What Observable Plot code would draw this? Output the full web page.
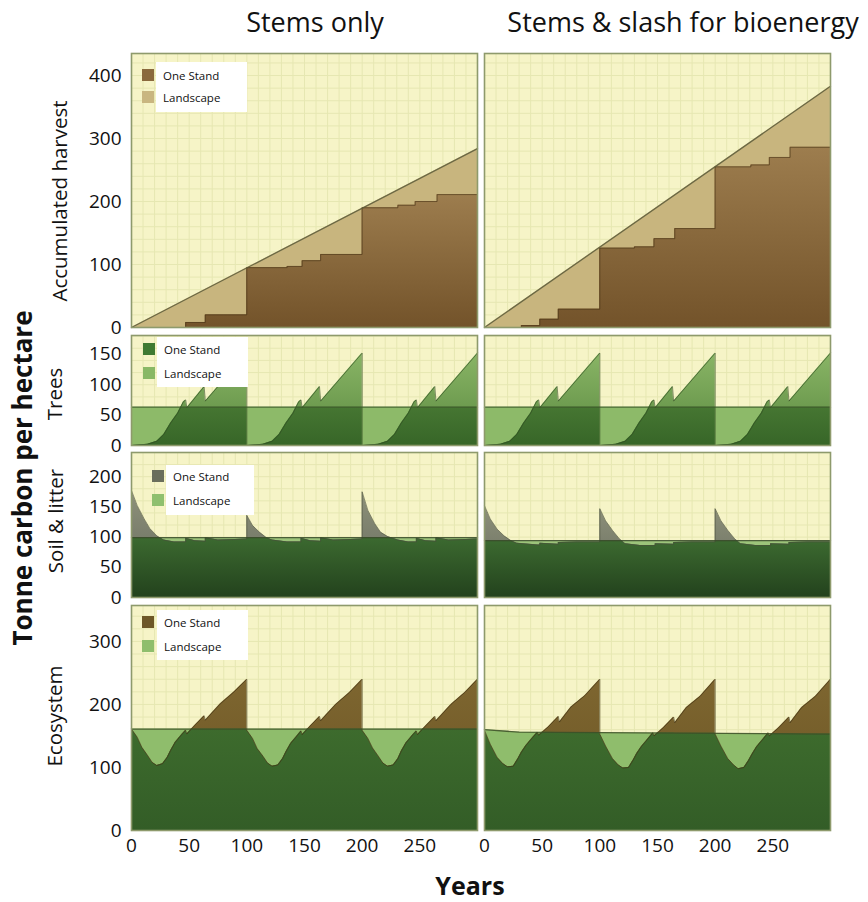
<!DOCTYPE html>
<html>
<head>
<meta charset="utf-8">
<script src="https://cdn.jsdelivr.net/npm/d3@7"></script>
<script src="https://cdn.jsdelivr.net/npm/@observablehq/plot@0.6"></script>
<style>
  body { margin: 0; background: #ffffff; }
  #root { position: relative; width: 868px; height: 902px; overflow: hidden; font-family: "Open Sans", sans-serif; background: #fff; }
  .cell { position: absolute; }
  #overlay { position: absolute; left: 0; top: 0; pointer-events: none; }
</style>
</head>
<body>
<div id="root"></div>
<script>
// ---------------- DATA ----------------
const columnTitles = ["Stems only", "Stems & slash for bioenergy"];
const rowLabels = ["Accumulated harvest", "Trees", "Soil & litter", "Ecosystem"];
const seriesNames = ["One Stand", "Landscape"];
const yAxisTitle = "Tonne carbon per hectare";
const xAxisTitle = "Years";
const xTickValues = [0, 50, 100, 150, 200, 250];
const harvestTicks = [0, 100, 200, 300, 400];
const treesTicks = [0, 50, 100, 150];
const soilTicks = [0, 50, 100, 150, 200];
const ecoTicks = [0, 100, 200, 300];

// Accumulated harvest [year, tC/ha]
const harvestStemsLandscape = [[0, 0], [300, 284]];
const harvestStemsStand = [[0,0],[47,0],[47,8],[64,8],[64,20],[100,20],[100,95],[135,95],[135,97],[148,97],[148,106],[164,106],[164,116],[200,116],[200,190],[231,190],[231,194],[246,194],[246,200],[265,200],[265,211],[300,211]];
const harvestSlashLandscape = [[0, 0], [300, 383]];
const harvestSlashStand = [[0,0],[32,0],[32,3],[48,3],[48,13],[64,13],[64,29],[100,29],[100,126],[130,126],[130,128],[147,128],[147,141],[165,141],[165,157],[200,157],[200,255],[231,255],[231,258],[247,258],[247,270],[265,270],[265,286],[300,286]];

// Trees (same in both scenarios)
const treesLandscape = [[0, 63], [300, 63]];
const treesStand = [
  [0,0],[14,2],[22,7],[28,18],[34,37],[40,53],[45,72],[47,75],[48,62],[63,97],[64,73],[100,152],
  [100,0],[114,2],[122,7],[128,18],[134,37],[140,53],[145,72],[147,75],[148,62],[163,97],[164,73],[200,152],
  [200,0],[214,2],[222,7],[228,18],[234,37],[240,53],[245,72],[247,75],[248,62],[263,97],[264,73],[300,152]
];

// Soil & litter
const soilStemsLandscape = [[0, 99], [300, 99]];
const soilStemsStand = [
  [0,177],[5,152],[11,130],[16,114],[22,102],[28,95],[37,92],[47,92],[47,98],[55,94],[64,93],[64,99],[75,95],[90,96],[100,97],
  [100,136],[105,119],[111,108],[117,99],[122,95],[135,92],[147,92],[147,98],[155,94],[164,93],[164,99],[175,95],[190,96],[200,97],
  [200,175],[205,144],[211,122],[216,108],[222,101],[231,95],[240,92],[247,92],[247,98],[255,94],[264,93],[264,99],[275,95],[290,96],[300,97],[300,175]
];
const soilSlashLandscape = [[0, 94], [300, 94]];
const soilSlashStand = [
  [0,152],[5,130],[11,113],[17,102],[23,94],[28,90],[46,87],[48,87],[48,90],[64,88],[64,91],[80,92],[100,92],
  [100,147],[105,127],[111,111],[117,97],[122,89],[135,86],[148,86],[148,89],[164,88],[164,91],[180,92],[200,92],
  [200,147],[205,127],[211,111],[217,97],[222,89],[235,86],[248,86],[248,89],[264,88],[264,91],[280,92],[300,92],[300,150]
];

// Ecosystem
const ecoStemsLandscape = [[0, 161], [300, 161]];
const ecoStemsStand = [
  [0,161],[5,148],[9,132],[14,119],[18,108],[22,103],[27,106],[31,116],[34,127],[38,140],[44,153],[47,159],[48,153],[55,167],[63,182],[64,175],[77,201],[89,220],[100,240],
  [100,159],[105,146],[109,130],[114,118],[118,107],[122,102],[127,104],[131,114],[134,125],[138,138],[144,151],[147,158],[148,152],[155,166],[163,181],[164,174],[177,200],[189,219],[200,240],
  [200,159],[205,146],[209,131],[214,118],[218,107],[222,102],[227,104],[231,114],[234,126],[238,139],[244,152],[247,158],[248,152],[255,166],[263,181],[264,174],[277,200],[289,219],[300,240]
];
const ecoSlashLandscape = [[0, 160], [30, 156], [300, 153]];
const ecoSlashStand = [
  [0,159],[5,137],[11,116],[16,106],[20,101],[25,102],[29,114],[32,124],[36,135],[42,148],[46,156],[47,151],[55,164],[64,181],[65,172],[75,196],[87,214],[100,240],
  [100,153],[105,134],[111,114],[116,104],[120,99],[125,100],[129,112],[132,122],[136,133],[142,146],[146,155],[147,150],[155,163],[164,180],[165,171],[175,195],[187,213],[200,240],
  [200,153],[205,134],[211,114],[216,104],[220,98],[225,100],[229,111],[232,121],[236,133],[242,146],[246,155],[247,150],[255,163],[264,180],[265,171],[275,195],[287,213],[300,240]
];

// ---------------- STYLE / LAYOUT ----------------
const BG = "#f6f4c7";
const GRID = "#e6e7b2";
const FRAME = "#8e9a6c";
const FONT = "'Open Sans', sans-serif";

const palettes = {
  harv: { land: "#c8b57e", standTop: "#9d7d4e", standBot: "#73532a", overTop: "#9d7d4e", overBot: "#73532a", landLine: "#5b5a3a", standLine: "#4a3518", legOne: "#8a693d", legLand: "#c9b680" },
  trees: { land: "#8dba69", standTop: "#8ab566", standBot: "#5a8a40", overTop: "#467632", overBot: "#376628", landLine: "#3e5a2a", standLine: "#2e4a20", legOne: "#3f7a32", legLand: "#89b866" },
  soil: { land: "#9cc47a", standTop: "#8e917a", standBot: "#60665a", overTop: "#3c6a30", overBot: "#23421d", landLine: "#3a4a2a", standLine: "#4a4f3a", legOne: "#6a6e5c", legLand: "#8fc06f" },
  eco: { land: "#8fbd6c", standTop: "#7e6630", standBot: "#6a5423", overTop: "#3d6b2d", overBot: "#335d27", landLine: "#3d4f28", standLine: "#3e3014", legOne: "#6d5727", legLand: "#8fbe6d" }
};

const rows = [
  { id: "harv", top: 53, h: 274, yMax: 435, ticks: harvestTicks, data: [[harvestStemsStand, harvestStemsLandscape], [harvestSlashStand, harvestSlashLandscape]] },
  { id: "trees", top: 335, h: 110, yMax: 181, ticks: treesTicks, data: [[treesStand, treesLandscape], [treesStand, treesLandscape]] },
  { id: "soil", top: 452, h: 145, yMax: 240, ticks: soilTicks, data: [[soilStemsStand, soilStemsLandscape], [soilSlashStand, soilSlashLandscape]] },
  { id: "eco", top: 605, h: 225, yMax: 357, ticks: ecoTicks, data: [[ecoStemsStand, ecoStemsLandscape], [ecoSlashStand, ecoSlashLandscape]] }
];
const cols = [{ x: 131, showY: true }, { x: 484, showY: false }];
const PANEL_W = 346;
const MARGIN_L = 50, MARGIN_B = 36;

const X = d => d[0], Y = d => d[1];

function lineAt(L, x) {
  for (let i = 1; i < L.length; i++) {
    if (x <= L[i][0]) {
      const [x0, y0] = L[i - 1], [x1, y1] = L[i];
      return x1 === x0 ? y1 : y0 + (y1 - y0) * (x - x0) / (x1 - x0);
    }
  }
  return L[L.length - 1][1];
}
// part of the stand area that lies below the landscape line
function lowerEnvelope(S, L) {
  const out = [];
  for (let i = 0; i < S.length; i++) {
    const [x, y] = S[i];
    const l = lineAt(L, x);
    if (i > 0) {
      const [px, py] = S[i - 1];
      const pl = lineAt(L, px);
      const d0 = py - pl, d1 = y - l;
      if (d0 * d1 < 0 && x !== px) {
        const t = d0 / (d0 - d1);
        out.push([px + t * (x - px), py + t * (y - py)]);
      }
    }
    out.push([x, Math.min(y, l)]);
  }
  return out;
}

function gradientDefs(uid, p) {
  return () => {
    const defs = d3.create("svg:defs");
    const add = (id, top, bot) => {
      const g = defs.append("linearGradient").attr("id", id).attr("x1", 0).attr("y1", 0).attr("x2", 0).attr("y2", 1);
      g.append("stop").attr("offset", "0%").attr("stop-color", top);
      g.append("stop").attr("offset", "100%").attr("stop-color", bot);
    };
    add(uid + "-stand", p.standTop, p.standBot);
    add(uid + "-over", p.overTop, p.overBot);
    return defs.node();
  };
}

const root = document.getElementById("root");

rows.forEach((row, ri) => {
  const p = palettes[row.id];
  const isBottom = ri === rows.length - 1;
  cols.forEach((col, ci) => {
    const [stand, land] = row.data[ci];
    const uid = `${row.id}-${ci}`;
    const env = lowerEnvelope(stand, land);
    const plot = Plot.plot({
      width: PANEL_W + (col.showY ? MARGIN_L : 0),
      height: row.h + (isBottom ? MARGIN_B : 0),
      marginLeft: col.showY ? MARGIN_L : 0,
      marginRight: 0,
      marginTop: 0,
      marginBottom: isBottom ? MARGIN_B : 0,
      x: { domain: [0, 300], axis: null },
      y: { domain: [0, row.yMax], axis: null },
      style: { fontFamily: FONT, fontSize: "19px", color: "#111", background: "transparent", overflow: "visible" },
      marks: [
        gradientDefs(uid, p),
        Plot.frame({ fill: BG, stroke: null }),
        Plot.gridX({ ticks: 30, stroke: GRID, strokeOpacity: 1, strokeWidth: 1 }),
        Plot.gridY({ ticks: Math.round(row.yMax / 20), stroke: GRID, strokeOpacity: 1, strokeWidth: 1 }),
        Plot.areaY(land, { x: X, y1: 0, y2: Y, fill: p.land }),
        Plot.areaY(stand, { x: X, y1: 0, y2: Y, fill: `url(#${uid}-stand)` }),
        Plot.areaY(env, { x: X, y1: 0, y2: Y, fill: `url(#${uid}-over)` }),
        Plot.line(stand, { x: X, y: Y, stroke: p.standLine, strokeWidth: 1, strokeOpacity: 0.6 }),
        Plot.line(land, { x: X, y: Y, stroke: p.landLine, strokeWidth: 1.3, strokeOpacity: 0.85 }),
        Plot.frame({ stroke: FRAME, strokeWidth: 1.6 }),
        col.showY ? Plot.axisY(row.ticks, { tickSize: 0, tickPadding: 10, label: null, fontSize: 19 }) : null,
        isBottom ? Plot.axisX(xTickValues, { tickSize: 0, tickPadding: 8, label: null, fontSize: 19 }) : null
      ]
    });
    const cell = document.createElement("div");
    cell.className = "cell";
    cell.style.left = (col.x - (col.showY ? MARGIN_L : 0)) + "px";
    cell.style.top = row.top + "px";
    cell.style.width = (PANEL_W + (col.showY ? MARGIN_L : 0)) + "px";
    cell.appendChild(plot);
    root.appendChild(cell);
  });
});

// ---------------- TITLES, LABELS, LEGENDS ----------------
const overlay = d3.create("svg").attr("id", "overlay").attr("width", 868).attr("height", 902)
  .style("font-family", FONT).style("fill", "#111");

const titleX = [315, 683];
columnTitles.forEach((t, i) => {
  overlay.append("text").attr("x", titleX[i]).attr("y", 32).attr("text-anchor", "middle")
    .style("font-size", "27px").text(t);
});

const rowLabelPos = [[67, 201], [62, 394], [63, 521], [62, 716]];
rowLabels.forEach((t, i) => {
  overlay.append("text").attr("transform", `translate(${rowLabelPos[i][0]},${rowLabelPos[i][1]}) rotate(-90)`)
    .attr("text-anchor", "middle").style("font-size", "20.5px").text(t);
});

overlay.append("text").attr("transform", "translate(32,478) rotate(-90)").attr("text-anchor", "middle")
  .style("font-size", "26px").style("font-weight", "bold").text(yAxisTitle);
overlay.append("text").attr("x", 470).attr("y", 895).attr("text-anchor", "middle")
  .style("font-size", "25px").style("font-weight", "bold").text(xAxisTitle);

const legendLayout = [
  { swX: 142, boxX: 156, boxY: 62, boxW: 91, boxH: 50, y1: 75, y2: 97 },
  { swX: 143, boxX: 157, boxY: 337, boxW: 91, boxH: 50, y1: 349, y2: 373 },
  { swX: 152, boxX: 166, boxY: 465, boxW: 88, boxH: 50, y1: 476, y2: 500 },
  { swX: 142, boxX: 157, boxY: 610, boxW: 91, boxH: 50, y1: 622, y2: 646 }
];
rows.forEach((row, i) => {
  const L = legendLayout[i], p = palettes[row.id];
  const g = overlay.append("g");
  g.append("rect").attr("x", L.boxX).attr("y", L.boxY).attr("width", L.boxW).attr("height", L.boxH).attr("fill", "#ffffff");
  [[p.legOne, L.y1, seriesNames[0]], [p.legLand, L.y2, seriesNames[1]]].forEach(([c, y, name]) => {
    g.append("rect").attr("x", L.swX).attr("y", y - 6).attr("width", 12).attr("height", 12).attr("fill", c);
    g.append("text").attr("x", L.boxX + 7).attr("y", y).attr("dominant-baseline", "central")
      .style("font-size", "11.5px").text(name);
  });
});

root.appendChild(overlay.node());
</script>
</body>
</html>
